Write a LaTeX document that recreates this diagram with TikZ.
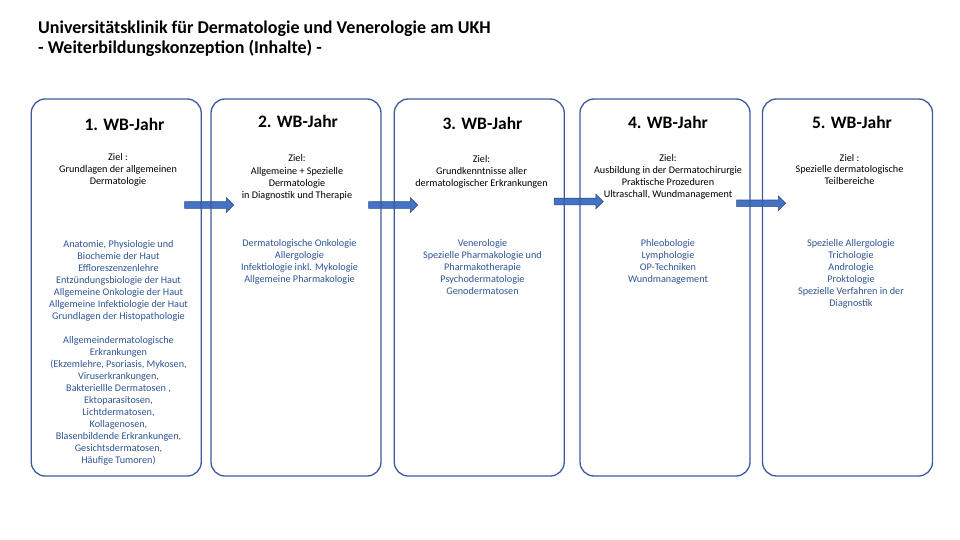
\documentclass[tikz,border=0pt]{standalone}
\usepackage{fontspec}
\setmainfont{Carlito}
\usetikzlibrary{shapes.arrows}
\definecolor{wbframe}{RGB}{60,90,160}
\definecolor{wbblue}{RGB}{47,85,151}
\definecolor{wbarrowfill}{RGB}{68,114,196}
\definecolor{wbarrowline}{RGB}{47,82,143}

\tikzset{
	wbbox/.style={draw=wbframe, line width=1.3pt, rounded corners=14pt,
		minimum width=170pt, minimum height=377pt, inner sep=0pt},
	wbtitle/.style={font=\bfseries\fontsize{17.5}{21}\selectfont, anchor=base, inner sep=0pt},
	% anchor=base sitzt hier auf der letzten Zeile
	wbgoal/.style={align=center, font=\fontsize{10.2}{12}\selectfont, anchor=base, inner sep=0pt},
	wbtopics/.style={wbgoal, text=wbblue},
	wbarrow/.style={single arrow, fill=wbarrowfill, draw=wbarrowline, line width=0.6pt,
		minimum height=49pt, inner sep=3pt, single arrow head extend=4pt}
}

\begin{document}
\begin{tikzpicture}[x=1pt,y=-1pt]
		\useasboundingbox (0,0) rectangle (960,540);
		\fill[white] (0,0) rectangle (960,540);
		\node[anchor=base west, align=left, inner sep=0pt,
		font=\bfseries\fontsize{18}{20}\selectfont] (head) at (38,54)
		{Universitätsklinik für Dermatologie und Venerologie am UKH\\
			- Weiterbildungskonzeption (Inhalte) -};
		% Pfeile zwischen den Jahren
		\node[wbarrow] (arr1) at (207.5,205) {};
		\node[wbarrow] (arr2) at (391.5,205) {};
		\node[wbarrow] (arr3) at (577,201.5) {};
		\node[wbarrow] (arr4) at (759.5,203.3) {};
		% Jahre
		\node[wbbox] (year1) at (116.25,287.5) {};
		\node[wbbox] (year2) at (296,287.5) {};
		\node[wbbox] (year3) at (479.25,287.5) {};
		\node[wbbox] (year4) at (665,287.5) {};
		\node[wbbox] (year5) at (847.5,287.5) {};
		\node[wbtitle] (title1) at (124.5,130.5) {1. WB-Jahr};
		\node[wbtitle] (title2) at (298,127.5) {2. WB-Jahr};
		\node[wbtitle] (title3) at (482.5,129.3) {3. WB-Jahr};
		\node[wbtitle] (title4) at (668,128.7) {4. WB-Jahr};
		\node[wbtitle] (title5) at (852,129) {5. WB-Jahr};
		\node[wbgoal] (goal1) at (118,184.5)
		{Ziel :\\Grundlagen der allgemeinen\\Dermatologie};
		\node[wbgoal] (goal2) at (297,198)
		{Ziel:\\Allgemeine + Spezielle\\Dermatologie\\in Diagnostik und Therapie};
		\node[wbgoal] (goal3) at (481.5,186.5)
		{Ziel:\\Grundkenntnisse aller\\dermatologischer Erkrankungen};
		\node[wbgoal] (goal4) at (668,197)
		{Ziel:\\Ausbildung in der Dermatochirurgie\\Praktische Prozeduren\\Ultraschall, Wundmanagement};
		\node[wbgoal] (goal5) at (849.5,185)
		{Ziel :\\Spezielle dermatologische\\Teilbereiche};
		% Inhalte
		\node[wbtopics] (topics1) at (118.5,319.5)
		{Anatomie, Physiologie und\\Biochemie der Haut\\Effloreszenzenlehre\\
			Entzündungsbiologie der Haut\\Allgemeine Onkologie der Haut\\
			Allgemeine Infektiologie der Haut\\Grundlagen der Histopathologie};
		\node[wbtopics] (diseases1) at (118.5,463.5)
		{Allgemeindermatologische\\Erkrankungen\\(Ekzemlehre, Psoriasis, Mykosen,\\
			Viruserkrankungen,\\Bakteriellle Dermatosen ,\\Ektoparasitosen,\\
			Lichtdermatosen,\\Kollagenosen,\\Blasenbildende Erkrankungen,\\
			Gesichtsdermatosen,\\Häufige Tumoren)};
		\node[wbtopics] (topics2) at (299.5,282.8)
		{Dermatologische Onkologie\\Allergologie\\Infektiologie inkl. Mykologie\\
			Allgemeine Pharmakologie};
		\node[wbtopics] (topics3) at (482.5,294)
		{Venerologie\\Spezielle Pharmakologie und\\Pharmakotherapie\\
			Psychodermatologie\\Genodermatosen};
		\node[wbtopics] (topics4) at (668,282)
		{Phleobologie\\Lymphologie\\OP-Techniken\\Wundmanagement};
		\node[wbtopics] (topics5) at (851,306)
		{Spezielle Allergologie\\Trichologie\\Andrologie\\Proktologie\\
			Spezielle Verfahren in der\\Diagnostik};
	\end{tikzpicture}
\end{document}
